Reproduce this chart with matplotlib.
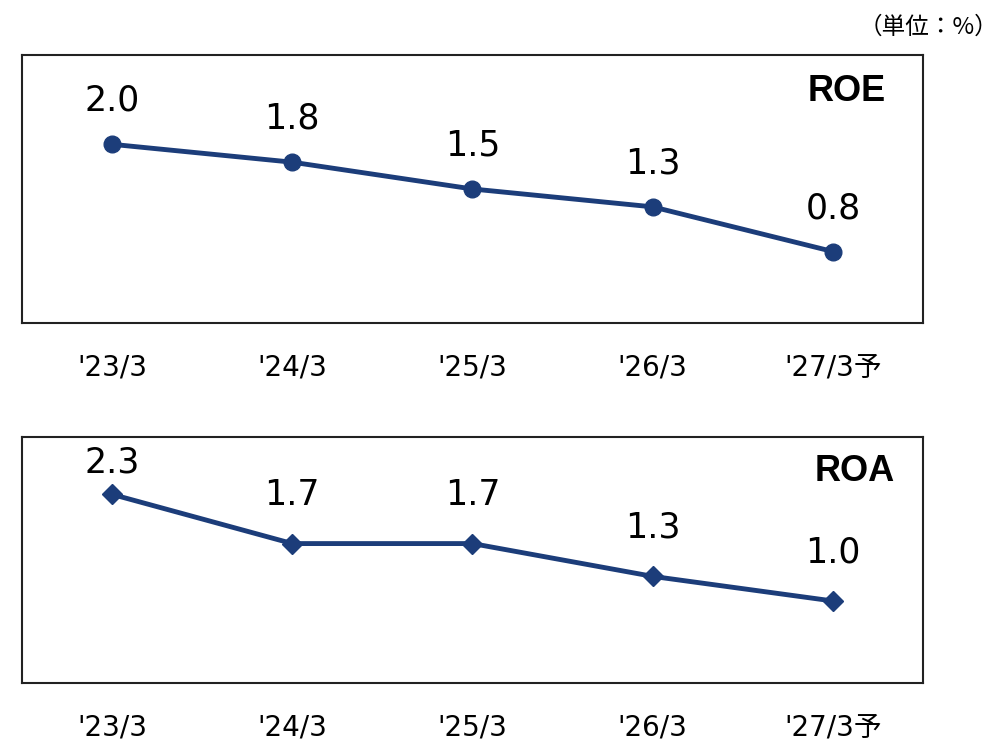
import matplotlib.pyplot as plt

# fiscal years and ratios (%)
years = ["'23/3", "'24/3", "'25/3", "'26/3", "'27/3予"]
roe = [2.0, 1.8, 1.5, 1.3, 0.8]
roa = [2.3, 1.7, 1.7, 1.3, 1.0]

navy = '#1c3d7a'
fam = ['DejaVu Sans', 'Noto Sans CJK JP']

fig = plt.figure(figsize=(9.99, 7.41), dpi=100)
ax1 = fig.add_axes([0.022, 0.5641, 0.9019, 0.3617])
ax2 = fig.add_axes([0.022, 0.0783, 0.9019, 0.3320])


def panel(ax, vals, marker, ms, name, name_x, offsets):
    x = range(len(vals))
    ax.plot(x, vals, color=navy, lw=3.5, marker=marker, ms=ms, zorder=3)
    for i, v in enumerate(vals):
        ax.annotate('%.1f' % v, (i, v), xytext=(0, offsets[i]), textcoords='offset points',
                    ha='center', va='baseline', fontsize=25, family='DejaVu Sans')
    ax.set_xlim(-0.5, len(vals) - 0.5)
    ax.set_ylim(0, 3.0)
    ax.set_yticks([])
    ax.set_xticks(list(x))
    ax.set_xticklabels(years, fontsize=20, family=fam)
    ax.tick_params(axis='x', length=0, pad=22)
    for s in ax.spines.values():
        s.set_linewidth(1.5)
        s.set_color('#222222')
    ax.text(name_x, 0.93, name, transform=ax.transAxes, ha='right', va='top',
            fontsize=26, fontweight='bold', family='Liberation Sans')


panel(ax1, roe, 'o', 12, 'ROE', 0.959, [24, 24, 24, 24, 24])
panel(ax2, roa, 'D', 10, 'ROA', 0.969, [16, 28, 28, 28, 28])

fig.text(0.999, 0.955, '（単位：%）', ha='right', va='baseline', fontsize=17,
         family=['Noto Sans CJK JP', 'DejaVu Sans'])

plt.savefig('out.png', dpi=100)
